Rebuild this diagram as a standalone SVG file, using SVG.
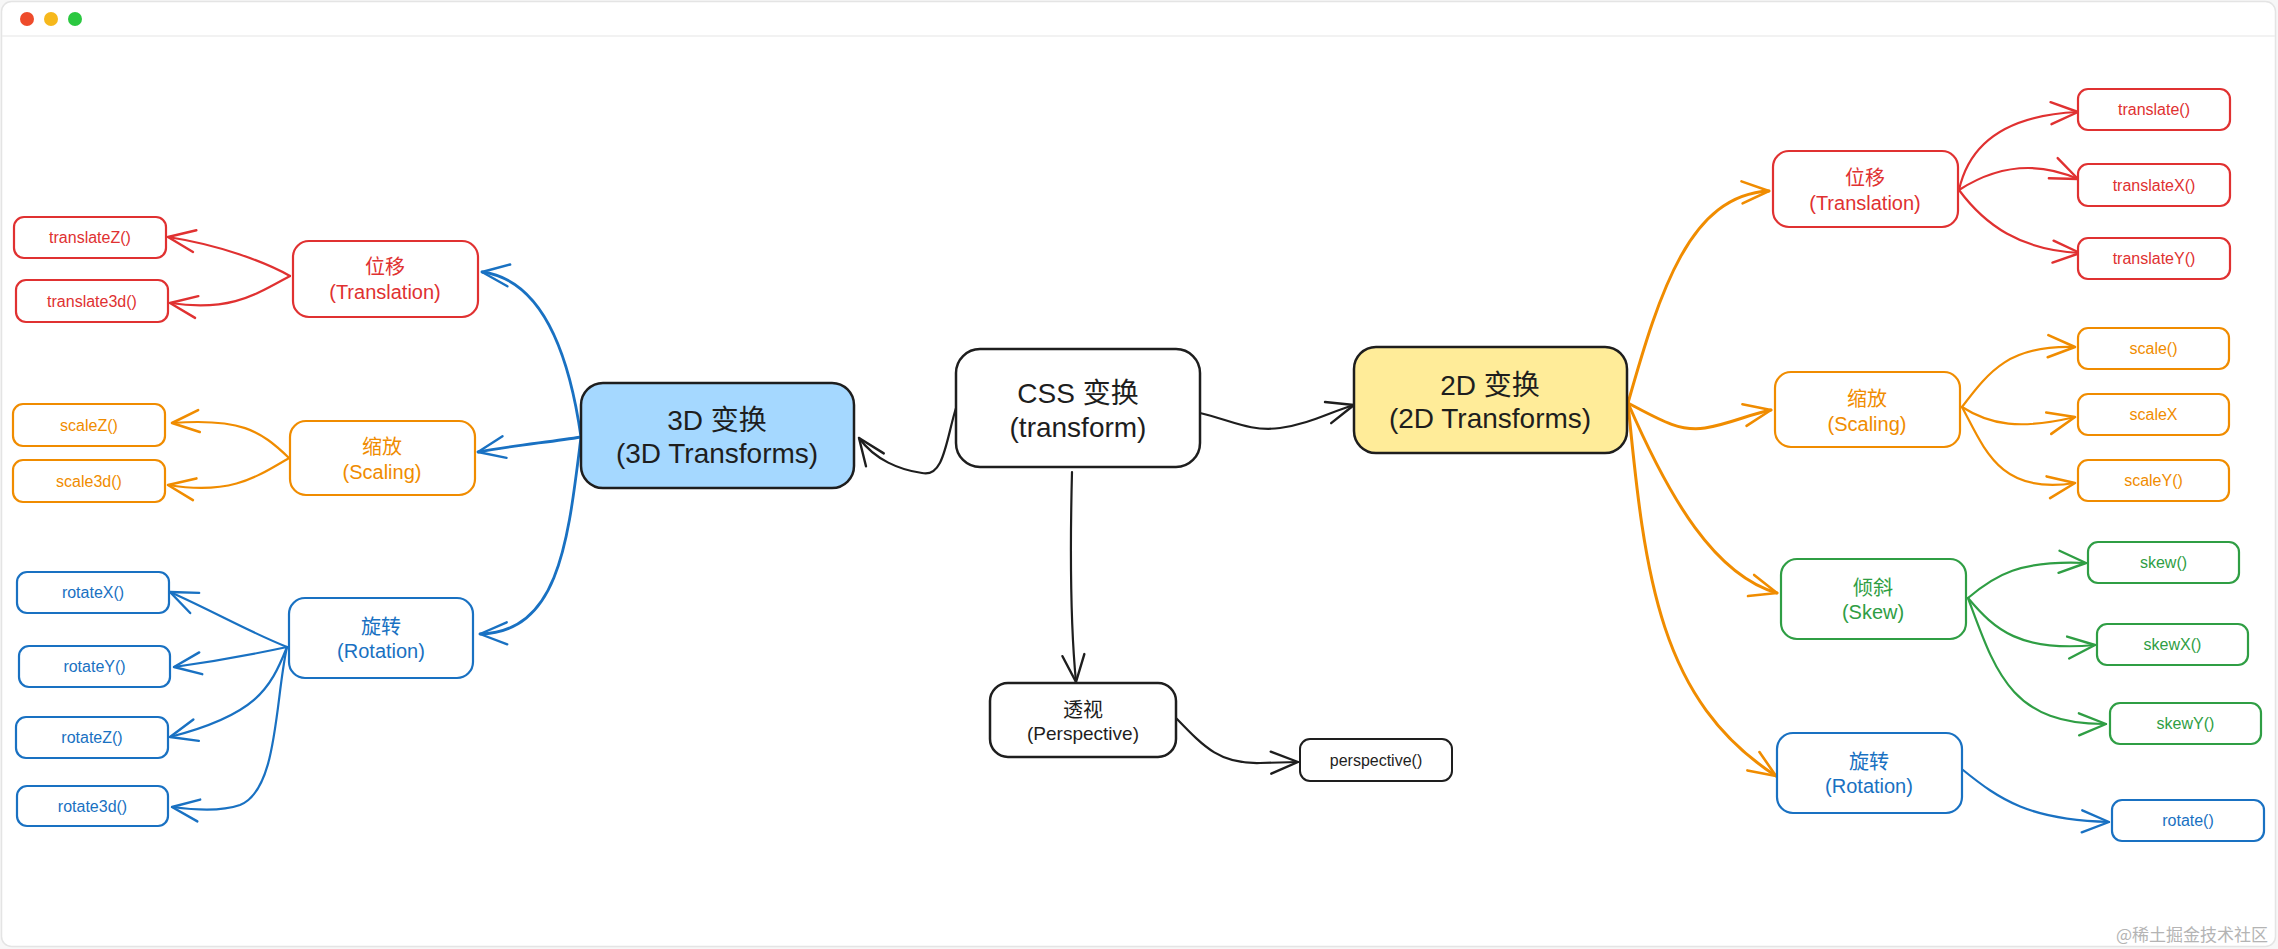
<svg xmlns="http://www.w3.org/2000/svg" width="2278" height="949" viewBox="0 0 2278 949">
<defs>
<style>
text{font-family:"Liberation Sans","Noto Sans CJK SC",sans-serif;text-anchor:middle;dominant-baseline:central}
.k{stroke:#1e1e1e;fill:#fff;stroke-width:2.5}
.r{stroke:#e03131;fill:#fff;stroke-width:2.2}
.o{stroke:#f08c00;fill:#fff;stroke-width:2.2}
.b{stroke:#1971c2;fill:#fff;stroke-width:2.2}
.g{stroke:#2f9e44;fill:#fff;stroke-width:2.2}
.tk{fill:#1e1e1e}.tr{fill:#e03131}.to{fill:#f08c00}.tb{fill:#1971c2}.tg{fill:#2f9e44}
.big{font-size:28px}.mid{font-size:20px}.sm{font-size:16px}
#connectors path{fill:none;stroke-linecap:round;stroke-linejoin:round}
.ck{stroke:#1e1e1e;stroke-width:2.2;marker-end:url(#ak)}
.cr{stroke:#e03131;stroke-width:2.2;marker-end:url(#ar)}
.co{stroke:#f08c00;stroke-width:2.2;marker-end:url(#ao)}
.co3{stroke:#f08c00;stroke-width:3;marker-end:url(#ao)}
.cb{stroke:#1971c2;stroke-width:2.2;marker-end:url(#ab)}
.cb3{stroke:#1971c2;stroke-width:2.8;marker-end:url(#ab)}
.cg{stroke:#2f9e44;stroke-width:2.2;marker-end:url(#ag)}
</style>
<marker id="ak" markerUnits="userSpaceOnUse" markerWidth="32" markerHeight="28" viewBox="0 0 32 28" refX="30" refY="14" orient="auto"><path d="M3 3 L30 14 L3 25" fill="none" stroke="#1e1e1e" stroke-width="2.4" stroke-linecap="round" stroke-linejoin="round"/></marker>
<marker id="ar" markerUnits="userSpaceOnUse" markerWidth="32" markerHeight="28" viewBox="0 0 32 28" refX="30" refY="14" orient="auto"><path d="M3 3 L30 14 L3 25" fill="none" stroke="#e03131" stroke-width="2.4" stroke-linecap="round" stroke-linejoin="round"/></marker>
<marker id="ao" markerUnits="userSpaceOnUse" markerWidth="32" markerHeight="28" viewBox="0 0 32 28" refX="30" refY="14" orient="auto"><path d="M3 3 L30 14 L3 25" fill="none" stroke="#f08c00" stroke-width="2.6" stroke-linecap="round" stroke-linejoin="round"/></marker>
<marker id="ab" markerUnits="userSpaceOnUse" markerWidth="32" markerHeight="28" viewBox="0 0 32 28" refX="30" refY="14" orient="auto"><path d="M3 3 L30 14 L3 25" fill="none" stroke="#1971c2" stroke-width="2.4" stroke-linecap="round" stroke-linejoin="round"/></marker>
<marker id="ag" markerUnits="userSpaceOnUse" markerWidth="32" markerHeight="28" viewBox="0 0 32 28" refX="30" refY="14" orient="auto"><path d="M3 3 L30 14 L3 25" fill="none" stroke="#2f9e44" stroke-width="2.4" stroke-linecap="round" stroke-linejoin="round"/></marker>
</defs>
<rect x="0" y="0" width="2278" height="949" fill="#f7f7f7"/>
<g id="window">
<rect x="1.5" y="1.5" width="2274" height="945" rx="10" fill="#fff" stroke="#e4e4e4" stroke-width="1.5"/>
<line x1="2" y1="36" x2="2275" y2="36" stroke="#eeeeee" stroke-width="1.5"/>
<circle cx="27" cy="19" r="7" fill="#ee4b2b"/>
<circle cx="51" cy="19" r="7" fill="#f6b81c"/>
<circle cx="75" cy="19" r="7" fill="#2bc840"/>
</g>
<g id="connectors">
<path class="ck" d="M956 408 C946 440,944 478,922 473 C900 470,875 460,859 438"/>
<path class="ck" d="M1200 413 C1230 420,1250 432,1280 428 C1310 424,1330 412,1354 405"/>
<path class="ck" d="M1072 472 C1070 550,1070 620,1076 682"/>
<path class="ck" d="M1176 718 C1205 748,1220 764,1260 763 L1298 762"/>
<path class="cb3" d="M581 437 C570 360,545 280,482 272"/>
<path class="cb3" d="M581 437 C550 442,510 446,478 452"/>
<path class="cb3" d="M581 437 C568 540,560 632,480 634"/>
<path class="cr" d="M290 276 C265 262,220 245,168 237"/>
<path class="cr" d="M290 276 C255 295,230 312,170 303"/>
<path class="co" d="M289 458 C260 430,240 418,172 423"/>
<path class="co" d="M289 458 C255 478,230 495,168 485"/>
<path class="cb" d="M287 647 C245 630,215 612,170 592"/>
<path class="cb" d="M287 647 C250 655,210 662,174 667"/>
<path class="cb" d="M287 647 C270 690,255 715,170 737"/>
<path class="cb" d="M287 647 C275 700,278 790,240 805 C220 812,195 810,172 807"/>
<path class="co3" d="M1628 403 C1660 290,1690 195,1769 191"/>
<path class="co3" d="M1628 403 C1660 420,1680 432,1705 428 C1730 424,1750 414,1771 410"/>
<path class="co3" d="M1628 403 C1670 500,1715 575,1777 593"/>
<path class="co3" d="M1628 403 C1645 580,1660 700,1776 776"/>
<path class="cr" d="M1959 190 C1970 140,2010 115,2078 112"/>
<path class="cr" d="M1959 190 C1990 170,2030 158,2078 179"/>
<path class="cr" d="M1959 190 C1985 225,2020 250,2080 253"/>
<path class="co" d="M1962 407 C1990 370,2010 345,2075 347"/>
<path class="co" d="M1962 407 C1990 425,2020 430,2075 417"/>
<path class="co" d="M1962 407 C1985 450,2000 495,2075 483"/>
<path class="cg" d="M1968 598 C1995 575,2020 560,2086 563"/>
<path class="cg" d="M1968 598 C1995 630,2020 652,2095 645"/>
<path class="cg" d="M1968 598 C1995 670,2010 725,2106 724"/>
<path class="cb" d="M1963 770 C2000 800,2030 820,2109 822"/>
</g>
<g id="css"><rect class="k" x="956" y="349" width="244" height="118" rx="24"/><text class="tk big" x="1078" y="393">CSS 变换</text><text class="tk big" x="1078" y="427">(transform)</text></g>
<g id="t3d"><rect class="k" x="581" y="383" width="273" height="105" rx="22" style="fill:#a5d8ff"/><text class="tk big" x="717" y="420">3D 变换</text><text class="tk big" x="717" y="453">(3D Transforms)</text></g>
<g id="t2d"><rect class="k" x="1354" y="347" width="273" height="106" rx="22" style="fill:#ffec99"/><text class="tk big" x="1490" y="385">2D 变换</text><text class="tk big" x="1490" y="418">(2D Transforms)</text></g>
<g id="persp"><rect class="k" x="990" y="683" width="186" height="74" rx="18"/><text class="tk mid" x="1083" y="710">透视</text><text class="tk" style="font-size:19px" x="1083" y="733">(Perspective)</text></g>
<g id="perspfn"><rect class="k" x="1300" y="739" width="152" height="42" rx="10" style="stroke-width:2"/><text class="tk sm" x="1376" y="760">perspective()</text></g>

<g id="l-trans"><rect class="r" x="293" y="241" width="185" height="76" rx="16"/><text class="tr mid" x="385" y="267">位移</text><text class="tr mid" x="385" y="292">(Translation)</text></g>
<g id="l-translateZ"><rect class="r" x="14" y="217" width="152" height="41" rx="10"/><text class="tr sm" x="90" y="237.5">translateZ()</text></g>
<g id="l-translate3d"><rect class="r" x="16" y="280" width="152" height="42" rx="10"/><text class="tr sm" x="92" y="301">translate3d()</text></g>
<g id="l-scale"><rect class="o" x="290" y="421" width="185" height="74" rx="16"/><text class="to mid" x="382" y="447">缩放</text><text class="to mid" x="382" y="472">(Scaling)</text></g>
<g id="l-scaleZ"><rect class="o" x="13" y="404" width="152" height="42" rx="10"/><text class="to sm" x="89" y="425">scaleZ()</text></g>
<g id="l-scale3d"><rect class="o" x="13" y="460" width="152" height="42" rx="10"/><text class="to sm" x="89" y="481">scale3d()</text></g>
<g id="l-rot"><rect class="b" x="289" y="598" width="184" height="80" rx="16"/><text class="tb mid" x="381" y="627">旋转</text><text class="tb mid" x="381" y="651">(Rotation)</text></g>
<g id="l-rotateX"><rect class="b" x="17" y="572" width="152" height="41" rx="10"/><text class="tb sm" x="93" y="592.5">rotateX()</text></g>
<g id="l-rotateY"><rect class="b" x="19" y="646" width="151" height="41" rx="10"/><text class="tb sm" x="94.5" y="666.5">rotateY()</text></g>
<g id="l-rotateZ"><rect class="b" x="16" y="717" width="152" height="41" rx="10"/><text class="tb sm" x="92" y="737.5">rotateZ()</text></g>
<g id="l-rotate3d"><rect class="b" x="17" y="786" width="151" height="40" rx="10"/><text class="tb sm" x="92.5" y="806">rotate3d()</text></g>

<g id="r-trans"><rect class="r" x="1773" y="151" width="185" height="76" rx="16"/><text class="tr mid" x="1865" y="178">位移</text><text class="tr mid" x="1865" y="203">(Translation)</text></g>
<g id="r-translate"><rect class="r" x="2078" y="89" width="152" height="41" rx="10"/><text class="tr sm" x="2154" y="109.5">translate()</text></g>
<g id="r-translateX"><rect class="r" x="2078" y="164" width="152" height="42" rx="10"/><text class="tr sm" x="2154" y="185">translateX()</text></g>
<g id="r-translateY"><rect class="r" x="2078" y="238" width="152" height="41" rx="10"/><text class="tr sm" x="2154" y="258.5">translateY()</text></g>
<g id="r-scale"><rect class="o" x="1775" y="372" width="185" height="75" rx="16"/><text class="to mid" x="1867" y="399">缩放</text><text class="to mid" x="1867" y="424">(Scaling)</text></g>
<g id="r-scalefn"><rect class="o" x="2078" y="328" width="151" height="41" rx="10"/><text class="to sm" x="2153.5" y="348.5">scale()</text></g>
<g id="r-scaleX"><rect class="o" x="2078" y="394" width="151" height="41" rx="10"/><text class="to sm" x="2153.5" y="414.5">scaleX</text></g>
<g id="r-scaleY"><rect class="o" x="2078" y="460" width="151" height="41" rx="10"/><text class="to sm" x="2153.5" y="480.5">scaleY()</text></g>
<g id="r-skew"><rect class="g" x="1781" y="559" width="185" height="80" rx="16"/><text class="tg mid" x="1873" y="588">倾斜</text><text class="tg mid" x="1873" y="612">(Skew)</text></g>
<g id="r-skewfn"><rect class="g" x="2088" y="542" width="151" height="41" rx="10"/><text class="tg sm" x="2163.5" y="562.5">skew()</text></g>
<g id="r-skewX"><rect class="g" x="2097" y="624" width="151" height="41" rx="10"/><text class="tg sm" x="2172.5" y="644.5">skewX()</text></g>
<g id="r-skewY"><rect class="g" x="2110" y="703" width="151" height="41" rx="10"/><text class="tg sm" x="2185.5" y="723.5">skewY()</text></g>
<g id="r-rot"><rect class="b" x="1777" y="733" width="185" height="80" rx="16"/><text class="tb mid" x="1869" y="762">旋转</text><text class="tb mid" x="1869" y="786">(Rotation)</text></g>
<g id="r-rotate"><rect class="b" x="2112" y="800" width="152" height="41" rx="10"/><text class="tb sm" x="2188" y="820.5">rotate()</text></g>

<text x="2268" y="933" style="text-anchor:end;font-size:17px;fill:#b4b4b4;font-family:'Noto Sans CJK SC',sans-serif">@稀土掘金技术社区</text>
</svg>
